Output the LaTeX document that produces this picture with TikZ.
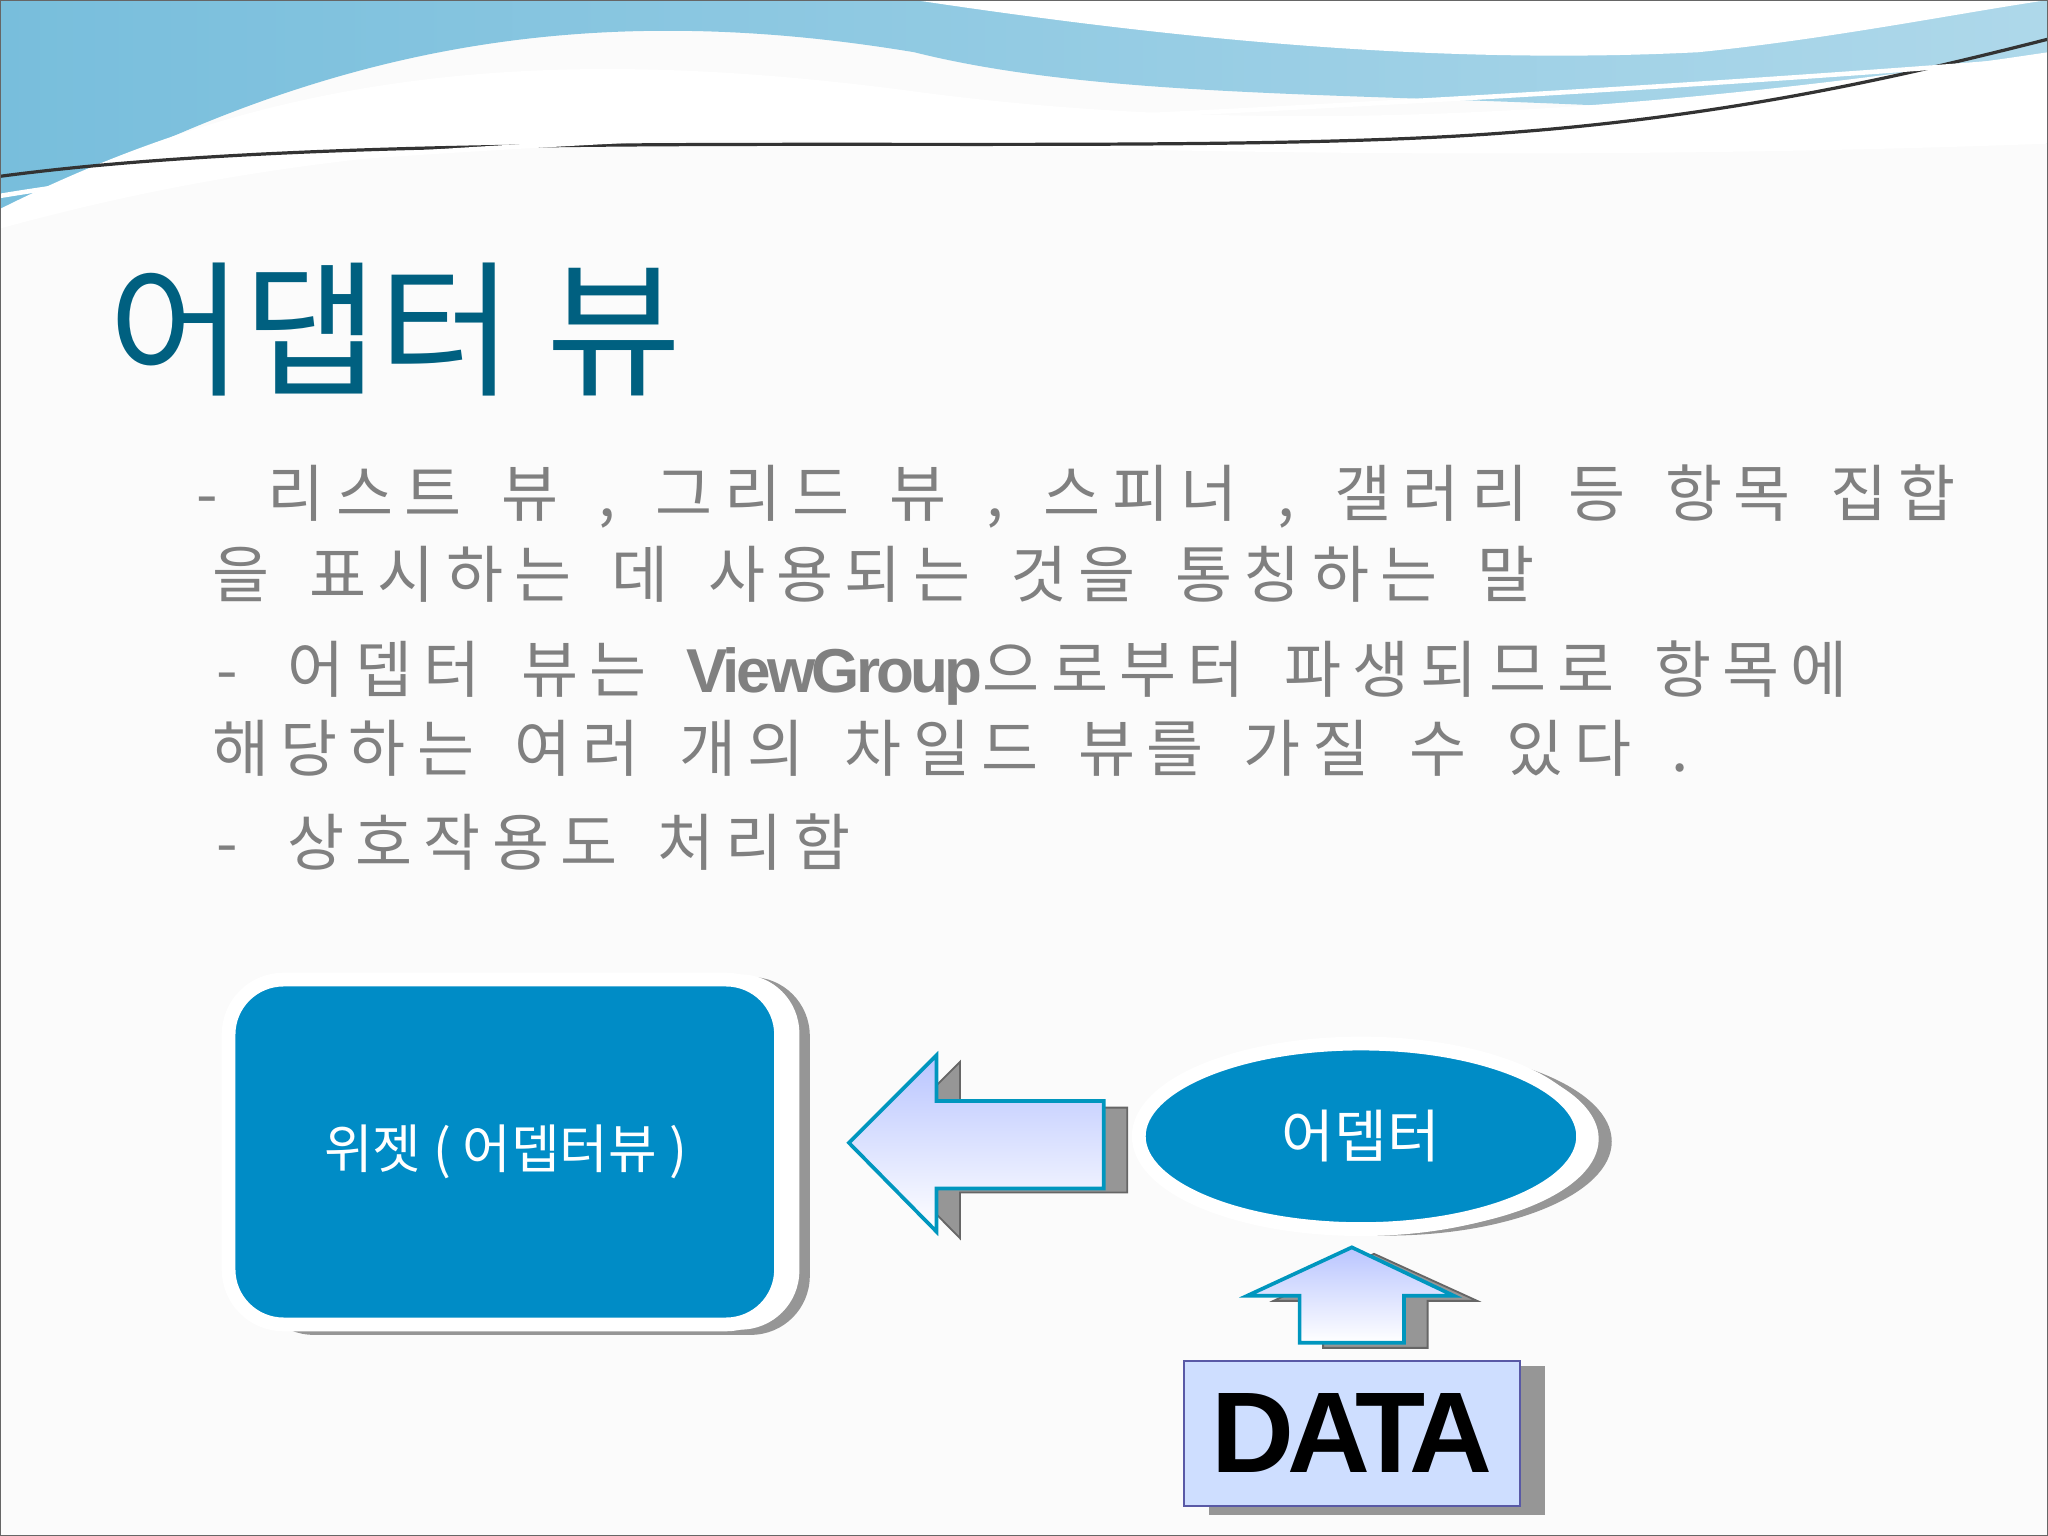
\documentclass[tikz,border=0pt]{standalone}
\usepackage{fontspec}
\setmainfont{Noto Sans CJK KR}
\newfontfamily\bodyfont[LetterSpace=18,WordSpace=1.6]{Noto Sans CJK KR}
\newfontfamily\latinsans{Liberation Sans}
\newfontfamily\tightsans[LetterSpace=-6]{Liberation Sans}
\usetikzlibrary{shapes.geometric,shadows}
\definecolor{titlec}{RGB}{0,96,128}
\definecolor{bodyc}{RGB}{128,128,128}
\definecolor{boxblue}{RGB}{0,140,198}
\definecolor{arrowline}{RGB}{0,150,190}
\definecolor{lightarrow}{RGB}{190,230,255}
\definecolor{datafill}{RGB}{206,222,255}
\definecolor{shadowc}{RGB}{150,150,150}
\definecolor{wave}{RGB}{120,190,220}
\tikzset{
 body/.style={anchor=west,text=bodyc,font=\bodyfont\fontsize{13.5}{16}\selectfont,inner sep=0},
 arrowshape/.style={draw=arrowline,line width=0.8pt,top color=lightarrow!60!blue!50,bottom color=white,shading angle=0},
 shad/.style={fill=shadowc,draw=gray!80!black}
}
\begin{document}
\begin{tikzpicture}[x=0.01cm,y=-0.01cm]
\useasboundingbox (0,0) rectangle (1568,1176);
\fill[gray!3] (0,0) rectangle (1568,1176);
% top wave
\shade[left color=wave,right color=wave!60] (0,0) -- (1568,0) -- (1568,110) .. controls (1200,60) and (900,90) .. (700,40) .. controls (400,-10) and (200,60) .. (0,170) -- cycle;
\fill[white] (0,160) .. controls (200,60) and (400,30) .. (700,70) .. controls (1000,110) and (1300,80) .. (1568,40) -- (1568,110) .. controls (1300,120) and (1000,120) .. (700,110) .. controls (400,100) and (200,120) .. (0,175) -- cycle;
\fill[white] (700,0) .. controls (900,30) and (1100,50) .. (1300,40) .. controls (1400,30) and (1500,10) .. (1568,0) -- cycle;
\draw[black!80,line width=0.7pt] (0,135) .. controls (300,95) and (800,120) .. (1100,105) .. controls (1300,95) and (1450,60) .. (1568,30);
\draw[white,line width=1pt] (0,150) .. controls (300,100) and (800,105) .. (1568,45);
% title
\node[anchor=west,text=titlec,font=\fontsize{32}{36}\selectfont,inner sep=0] (title) at (82,252) {어댑터 뷰};
% body text
\node[body] (l1) at (150,380) {-\hspace{0.8em}리스트 뷰 , 그리드 뷰 , 스피너 , 갤러리 등 항목 집합};
\node[body] (l2) at (162,440) {을 표시하는 데 사용되는 것을 통칭하는 말};
\node[body] (l3) at (165,515) {-\hspace{0.8em}어뎁터 뷰는 {\tightsans\bfseries ViewGroup}으로부터 파생되므로 항목에};
\node[body] (l4) at (162,573) {해당하는 여러 개의 차일드 뷰를 가질 수 있다 .};
\node[body] (l5) at (165,645) {-\hspace{0.8em}상호작용도 처리함};
% widget box
\fill[shadowc,rounded corners=0.45cm] (195,748) rectangle (620,1022);
\fill[white,rounded corners=0.45cm] (185,746) rectangle (612,1018);
\draw[white,line width=3pt,fill=boxblue,rounded corners=0.42cm] (175,750) rectangle (598,1014);
\node[text=white,font=\fontsize{11.5}{14}\selectfont] (widget) at (387,882) {위젯 ( 어뎁터뷰 )};
% left arrow
\fill[shad] (668,880) -- (735,813) -- (735,848) -- (863,848) -- (863,913) -- (735,913) -- (735,948) -- cycle;
\shade[arrowshape] (650,875) -- (717,808) -- (717,843) -- (845,843) -- (845,910) -- (717,910) -- (717,943) -- cycle;
% ellipse
\fill[shadowc] (1062,874) ellipse (172 and 72);
\fill[white] (1052,872) ellipse (172 and 72);
\node[ellipse,draw=white,line width=3pt,fill=boxblue,minimum width=3.4cm,minimum height=1.42cm,text=white,font=\fontsize{12.5}{15}\selectfont] (adapter) at (1042,870) {어뎁터};
% up arrow
\fill[shad] (1052,960) -- (1131,996) -- (1093,996) -- (1093,1032) -- (1013,1032) -- (1013,996) -- (975,996) -- cycle;
\shade[arrowshape] (1035,955) -- (1113,992) -- (1075,992) -- (1075,1028) -- (995,1028) -- (995,992) -- (955,992) -- cycle;
% DATA
\fill[shadowc] (926,1046) rectangle (1183,1160);
\node[draw=gray!70!blue,fill=datafill,minimum width=2.57cm,minimum height=1.11cm,anchor=north west,inner sep=0] (data) at (906,1041) {};
\node[font=\tightsans\bfseries\fontsize{25}{28}\selectfont,text=black] at (data.center) {DATA};
\draw[black!60] (0,0) rectangle (1568,1176);
\end{tikzpicture}
\end{document}
